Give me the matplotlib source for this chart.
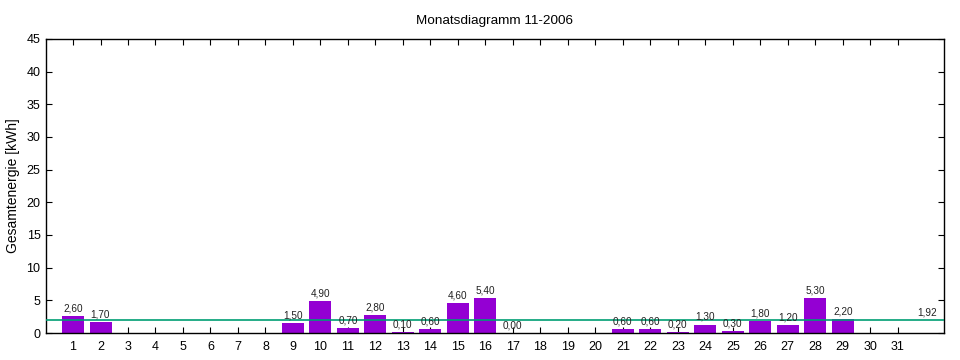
"""Monatsdiagramm 11-2006"""

import matplotlib
matplotlib.use("Agg")
import matplotlib.pyplot as plt

plt.rcParams["font.family"] = ["Liberation Sans", "DejaVu Sans"]

DAYS = [1, 2, 9, 10, 11, 12, 13, 14, 15, 16, 17,
        21, 22, 23, 24, 25, 26, 27, 28, 29]
ENERGY = [2.6, 1.7, 1.5, 4.9, 0.7, 2.8, 0.1, 0.6, 4.6, 5.4, 0.0,
          0.6, 0.6, 0.2, 1.3, 0.3, 1.8, 1.2, 5.3, 2.2]
AVERAGE = 1.92
TICK_DAYS = list(range(1, 32))
Y_TICKS = list(range(0, 46, 5))


def fmt(v):
    return ("%.2f" % v).replace(".", ",")


fig = plt.figure(figsize=(9.6, 3.6), dpi=100)
ax = fig.add_axes([0.048, 0.075, 0.935, 0.817])

ax.bar(DAYS, ENERGY, width=0.8, color="#9400d3", zorder=2)
for d, v in zip(DAYS, ENERGY):
    ax.text(d, v + 0.4, fmt(v), ha="center", va="bottom",
            fontsize=7.2, color="#222222", zorder=4)

ax.axhline(AVERAGE, color="#009e73", linewidth=1.2, zorder=3)
ax.text(32.05, AVERAGE + 0.4, fmt(AVERAGE), ha="center", va="bottom",
        fontsize=7.2, color="#222222")

ax.set_xlim(0.02, 32.67)
ax.set_ylim(0, 45)
ax.set_xticks(TICK_DAYS)
ax.set_yticks(Y_TICKS)
ax.tick_params(direction="in", top=True, right=True, length=4,
               labelsize=9, pad=6)
ax.tick_params(axis="y", pad=4)
for s in ax.spines.values():
    s.set_linewidth(1.0)

ax.set_ylabel("Gesamtenergie [kWh]", fontsize=10, labelpad=5)
ax.set_title("Monatsdiagramm 11-2006", fontsize=9.7, pad=11)

fig.savefig("out.png", dpi=100)
